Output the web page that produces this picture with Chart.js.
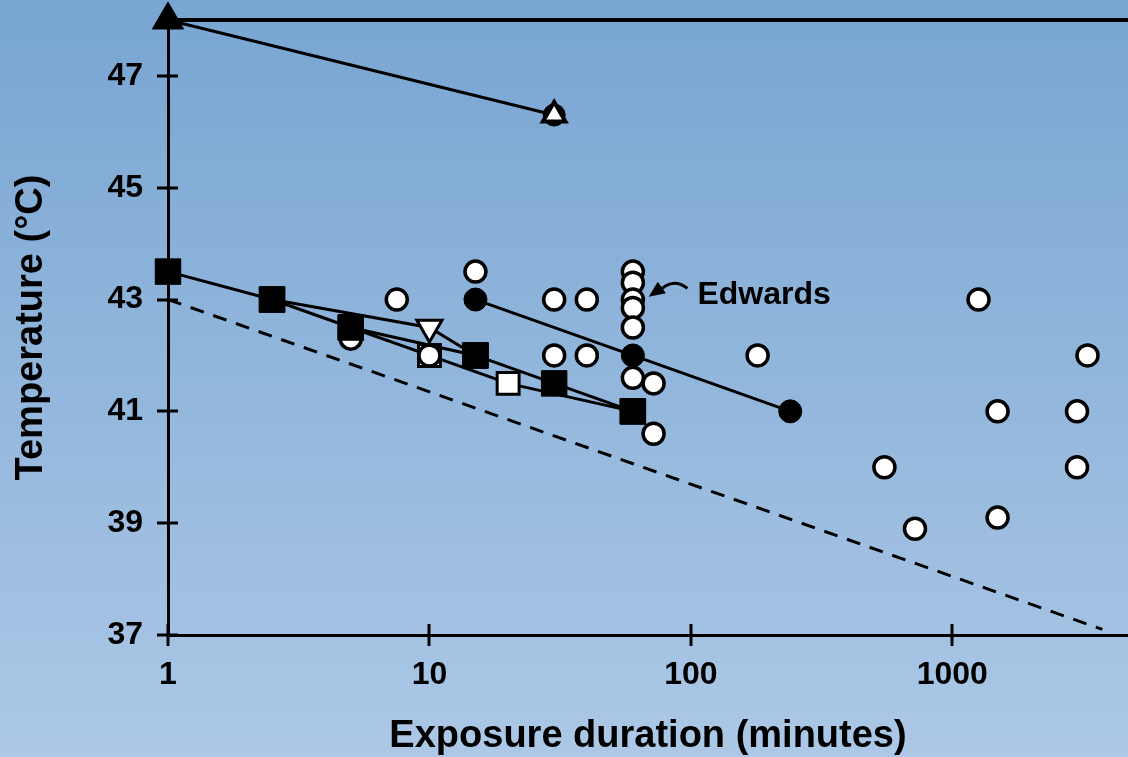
<!DOCTYPE html>
<html>
<head>
<meta charset="utf-8">
<script src="https://cdn.jsdelivr.net/npm/chart.js@4.4.0/dist/chart.umd.min.js"></script>
<style>
  html, body { margin: 0; padding: 0; background: #8fb3db; }
  #grafico { display: block; }
</style>
</head>
<body>
<canvas id="grafico" width="1128" height="757"></canvas>
<script>
// ejes
const xTicks = [1, 10, 100, 1000];
const yTicks = [37, 39, 41, 43, 45, 47];
const xMin = 1, xMax = 4700, yMin = 37, yMax = 48;

// triangulos (linea superior)
const triX = [1, 30];
const triY = [48, 46.3];
const circulo30X = [30];
const circulo30Y = [46.3];
const limiteX = [1, 4700];
const limiteY = [48, 48];

// cuadrados negros
const cuadrosX = [1, 2.5, 5, 15, 30, 60];
const cuadrosY = [43.5, 43, 42.5, 42, 41.5, 41];

// serie con triangulo invertido
const serieTriX = [2.5, 10, 15];
const serieTriY = [43, 42.5, 42];

// serie con cuadrados blancos
const serieBlancaX = [5, 10, 20, 60];
const serieBlancaY = [42.5, 42, 41.5, 41];

// circulos negros (Edwards)
const edwardsX = [15, 60, 240];
const edwardsY = [43, 42, 41];

// circulos blancos
const abiertosX = [5, 7.5, 10, 15, 30, 40, 30, 40, 60, 60, 60, 60, 60, 60, 72, 72, 180, 550, 720, 1260, 1490, 1490, 3000, 3000, 3290];
const abiertosY = [42.3, 43, 42, 43.5, 43, 43, 42, 42, 43.5, 43.3, 43.0, 42.85, 42.5, 41.6, 41.5, 40.6, 42, 40, 38.9, 43, 41, 39.1, 41, 40, 42];

// linea discontinua
const umbralX = [1, 3750];
const umbralY = [43, 37.1];

// etiqueta
const etiquetaTexto = 'Edwards';
const etiquetaPos = [106, 43.08];
const flechaDesde = [97, 43.2];
const flechaHasta = [69, 43.05];

const fuente = '"Liberation Sans", Arial, sans-serif';

function pares(xs, ys) {
    return xs.map((x, i) => ({x: x, y: ys[i]}));
}

function sinRelleno(s) {
    s.paddingLeft = 0;
    s.paddingRight = 0;
    s.paddingTop = 0;
    s.paddingBottom = 0;
}

const fondo = {
    id: 'fondo',
    beforeDraw(chart) {
        const {ctx, width, height} = chart;
        const g = ctx.createLinearGradient(0, 0, 0, height);
        g.addColorStop(0, '#78a5d2');
        g.addColorStop(1, '#acc8e6');
        ctx.save();
        ctx.fillStyle = g;
        ctx.fillRect(0, 0, width, height);
        ctx.restore();
    }
};

// marcas que cruzan los ejes
const marcas = {
    id: 'marcas',
    beforeDatasetsDraw(chart) {
        const {ctx, scales: {x, y}} = chart;
        ctx.save();
        ctx.strokeStyle = '#000';
        ctx.lineWidth = 3;
        ctx.beginPath();
        xTicks.forEach(v => {
            const px = Math.round(x.getPixelForValue(v));
            ctx.moveTo(px, y.bottom - 11);
            ctx.lineTo(px, y.bottom + 11);
        });
        yTicks.forEach(v => {
            const py = Math.round(y.getPixelForValue(v));
            ctx.moveTo(x.left - 11, py);
            ctx.lineTo(x.left + 10, py);
        });
        ctx.stroke();
        ctx.restore();
    }
};

const anotacion = {
    id: 'anotacion',
    afterDatasetsDraw(chart) {
        const {ctx, scales: {x, y}} = chart;
        ctx.save();
        ctx.fillStyle = '#000';
        ctx.font = 'bold 32px ' + fuente;
        ctx.textAlign = 'left';
        ctx.textBaseline = 'middle';
        ctx.fillText(etiquetaTexto, x.getPixelForValue(etiquetaPos[0]), y.getPixelForValue(etiquetaPos[1]));

        const x0 = x.getPixelForValue(flechaDesde[0]), y0 = y.getPixelForValue(flechaDesde[1]);
        const x1 = x.getPixelForValue(flechaHasta[0]), y1 = y.getPixelForValue(flechaHasta[1]);
        const cx = (x0 + x1) / 2 + 4, cy = Math.min(y0, y1) - 12;
        ctx.strokeStyle = '#000';
        ctx.lineWidth = 3;
        ctx.beginPath();
        ctx.moveTo(x0, y0);
        ctx.quadraticCurveTo(cx, cy, x1 + 9, y1 - 4);
        ctx.stroke();
        const ang = Math.atan2(y1 - (cy + 4), x1 - cx);
        ctx.beginPath();
        ctx.moveTo(x1, y1);
        ctx.lineTo(x1 - 16 * Math.cos(ang) + 7 * Math.sin(ang), y1 - 16 * Math.sin(ang) - 7 * Math.cos(ang));
        ctx.lineTo(x1 - 16 * Math.cos(ang) - 7 * Math.sin(ang), y1 - 16 * Math.sin(ang) + 7 * Math.cos(ang));
        ctx.closePath();
        ctx.fill();
        ctx.restore();
    }
};

const datasets = [
    {
        data: pares(triX, triY), showLine: true,
        borderColor: '#000', borderWidth: 3,
        pointStyle: 'triangle', pointRadius: [18, 13],
        pointBackgroundColor: ['#000', '#fff'], pointBorderColor: '#000', pointBorderWidth: [1, 4]
    },
    {
        data: pares(circulo30X, circulo30Y), showLine: false,
        pointStyle: 'circle', pointRadius: 11,
        pointBackgroundColor: '#000', pointBorderColor: '#000', pointBorderWidth: 1
    },
    {
        data: pares(limiteX, limiteY), showLine: true,
        borderColor: '#000', borderWidth: 4, pointRadius: 0
    },
    {
        data: pares(cuadrosX, cuadrosY), showLine: true,
        borderColor: '#000', borderWidth: 3,
        pointStyle: 'rect', pointRadius: 18,
        pointBackgroundColor: '#000', pointBorderColor: '#000', pointBorderWidth: 1
    },
    {
        data: pares(edwardsX, edwardsY), showLine: true,
        borderColor: '#000', borderWidth: 3,
        pointStyle: 'circle', pointRadius: 11.5,
        pointBackgroundColor: '#000', pointBorderColor: '#000', pointBorderWidth: 1
    },
    {
        data: pares(abiertosX, abiertosY), showLine: false,
        pointStyle: 'circle', pointRadius: 10.5,
        pointBackgroundColor: '#fff', pointBorderColor: '#000', pointBorderWidth: 3.5
    },
    {
        data: pares(serieTriX, serieTriY), showLine: true,
        borderColor: '#000', borderWidth: 3,
        pointStyle: ['rect', 'triangle', 'rect'], pointRadius: [18, 14.5, 18],
        pointRotation: [0, 180, 0],
        pointBackgroundColor: ['#000', '#fff', '#000'], pointBorderColor: '#000', pointBorderWidth: [1, 3, 1]
    },
    {
        data: pares(serieBlancaX, serieBlancaY), showLine: true,
        borderColor: '#000', borderWidth: 3,
        pointStyle: 'rect', pointRadius: [18, 15.5, 15.5, 18],
        pointBackgroundColor: ['#000', '#fff', '#fff', '#000'], pointBorderColor: '#000', pointBorderWidth: [1, 3, 3, 1]
    },
    {
        data: pares(umbralX, umbralY), showLine: true,
        borderColor: '#000', borderWidth: 3, borderDash: [14, 10], pointRadius: 0
    }
];
datasets.forEach(d => { d.clip = false; d.tension = 0; });

new Chart(document.querySelector('#grafico'), {
    type: 'scatter',
    data: {datasets},
    options: {
        responsive: false,
        animation: false,
        events: [],
        layout: {autoPadding: false, padding: {top: 20, right: 0, left: 0, bottom: 0}},
        plugins: {legend: {display: false}, tooltip: {enabled: false}},
        scales: {
            x: {
                type: 'logarithmic', min: xMin, max: xMax,
                afterBuildTicks: s => { s.ticks = xTicks.map(v => ({value: v})); },
                afterFit: s => { s.height = 122; sinRelleno(s); },
                grid: {display: false, drawTicks: false},
                border: {display: true, color: '#000', width: 3},
                ticks: {
                    color: '#000', padding: 21,
                    font: {family: fuente, size: 32, weight: 'bold'},
                    callback: v => String(v), maxRotation: 0, autoSkip: false
                },
                title: {
                    display: true, text: 'Exposure duration (minutes)', color: '#000',
                    font: {family: fuente, size: 38, weight: 'bold', lineHeight: 1.1},
                    padding: {top: 0, bottom: 0}
                }
            },
            y: {
                min: yMin, max: yMax,
                afterBuildTicks: s => { s.ticks = yTicks.map(v => ({value: v})); },
                afterFit: s => { s.width = 168; sinRelleno(s); },
                grid: {display: false, drawTicks: false},
                border: {display: true, color: '#000', width: 3},
                ticks: {
                    color: '#000', padding: 25,
                    font: {family: fuente, size: 32, weight: 'bold'}
                },
                title: {
                    display: true, text: 'Temperature (°C)', color: '#000',
                    font: {family: fuente, size: 38, weight: 'bold'},
                    padding: {top: 9, bottom: 0}
                }
            }
        }
    },
    plugins: [fondo, marcas, anotacion]
});
</script>
</body>
</html>
